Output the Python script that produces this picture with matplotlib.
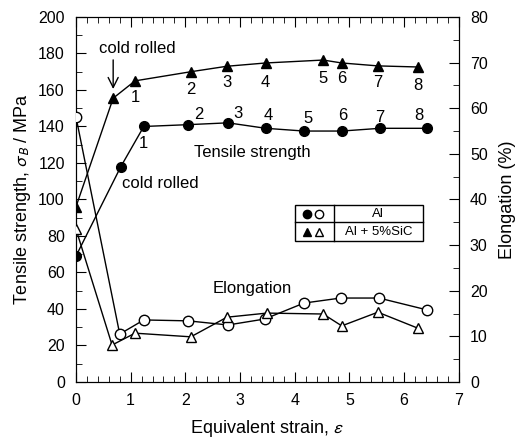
import matplotlib.pyplot as plt
from matplotlib.patches import Rectangle
from matplotlib.ticker import MultipleLocator

plt.rcParams["font.family"] = ["Liberation Sans", "DejaVu Sans"]
plt.rcParams["mathtext.fontset"] = "stixsans"

# tensile strength (MPa), left axis
al_strain = [0.0, 0.82, 1.24, 2.05, 2.78, 3.47, 4.17, 4.86, 5.56, 6.42]
al_ts = [69, 118, 140, 141, 142, 139, 137.5, 137.5, 139, 139]
sic_strain = [0.0, 0.68, 1.08, 2.1, 2.76, 3.47, 4.52, 4.86, 5.52, 6.25]
sic_ts = [96, 155.5, 165, 170, 173, 174.8, 176.4, 174.8, 173.2, 172.6]

# elongation (%), right axis
al_el_strain = [0.0, 0.8, 1.24, 2.05, 2.78, 3.45, 4.17, 4.84, 5.54, 6.42]
al_el = [58.1, 10.5, 13.6, 13.4, 12.5, 13.8, 17.3, 18.4, 18.4, 15.8]
sic_el_strain = [0.0, 0.66, 1.08, 2.1, 2.76, 3.49, 4.52, 4.86, 5.52, 6.25]
sic_el = [33.5, 8.1, 10.7, 9.9, 14.2, 15.1, 14.9, 12.3, 15.3, 11.8]

pass_labels = ["1", "2", "3", "4", "5", "6", "7", "8"]
# label offsets in points for the numbered passes
al_offsets = [(0, -12), (8, 7), (7, 7), (2, 9), (3, 9), (1, 11), (0, 8), (-6, 9)]
sic_offsets = [(0, -12), (0, -13), (0, -12), (0, -14), (0, -13), (0, -11), (0, -12), (0, -13)]

fig = plt.figure(figsize=(5.19, 4.41), dpi=100)
ax = fig.add_axes([0.1464, 0.1338, 0.7376, 0.8277])
ax2 = ax.twinx()

ax.plot(al_strain, al_ts, color="black", lw=1, marker="o", ms=7, mfc="black", mec="black", zorder=3)
ax.plot(sic_strain, sic_ts, color="black", lw=1, marker="^", ms=7, mfc="black", mec="black", zorder=3)
ax2.plot(al_el_strain, al_el, color="black", lw=1, marker="o", ms=7.5, mfc="white", mec="black", zorder=3)
ax2.plot(sic_el_strain, sic_el, color="black", lw=1, marker="^", ms=7.5, mfc="white", mec="black", zorder=3)

for i, lab in enumerate(pass_labels):
    ax.annotate(lab, (al_strain[i + 2], al_ts[i + 2]), xytext=al_offsets[i],
                textcoords="offset points", ha="center", va="center", fontsize=12)
    ax.annotate(lab, (sic_strain[i + 2], sic_ts[i + 2]), xytext=sic_offsets[i],
                textcoords="offset points", ha="center", va="center", fontsize=12)

ax.text(0.42, 183, "cold rolled", fontsize=12, va="center")
ax.annotate("", xy=(sic_strain[1], 159), xytext=(sic_strain[1], 178),
            arrowprops=dict(arrowstyle="->", color="black", lw=1, mutation_scale=18))
ax.text(0.85, 109, "cold rolled", fontsize=12, va="center")
ax.text(2.15, 126, "Tensile strength", fontsize=12, va="center")
ax.text(2.5, 51, "Elongation", fontsize=12, va="center")

ax.set_xlim(0, 7)
ax.set_ylim(0, 200)
ax2.set_ylim(0, 80)
ax.xaxis.set_major_locator(MultipleLocator(1))
ax.xaxis.set_minor_locator(MultipleLocator(0.2))
ax.yaxis.set_major_locator(MultipleLocator(20))
ax.yaxis.set_minor_locator(MultipleLocator(10))
ax2.yaxis.set_major_locator(MultipleLocator(10))
ax2.yaxis.set_minor_locator(MultipleLocator(5))

ax.tick_params(which="both", direction="in", top=True, labelsize=11.5, pad=8)
ax.tick_params(which="major", length=7)
ax.tick_params(which="minor", length=4)
ax2.tick_params(which="both", direction="in", labelsize=11.5, pad=8)
ax2.tick_params(which="major", length=7)
ax2.tick_params(which="minor", length=4)

ax.set_xlabel(r"Equivalent strain, $\varepsilon$", fontsize=13, labelpad=7)
ax.set_ylabel(r"Tensile strength, $\sigma_B$ / MPa", fontsize=13, labelpad=4)
ax2.set_ylabel("Elongation (%)", fontsize=13, labelpad=8)

# table-style legend
tr = ax.transAxes
x0, x1, xd = 0.572, 0.906, 0.674
yb, ym, yt = 0.386, 0.438, 0.485
ax.add_patch(Rectangle((x0, yb), x1 - x0, yt - yb, transform=tr, fill=False, lw=1, zorder=5))
ax.plot([x0, x1], [ym, ym], transform=tr, color="black", lw=1, zorder=5)
ax.plot([xd, xd], [yb, yt], transform=tr, color="black", lw=1, zorder=5)
ax.plot([0.603], [(ym + yt) / 2], transform=tr, marker="o", ms=6, color="black", zorder=6)
ax.plot([0.635], [(ym + yt) / 2], transform=tr, marker="o", ms=6, mfc="white", mec="black", zorder=6)
ax.plot([0.603], [(yb + ym) / 2], transform=tr, marker="^", ms=6, color="black", zorder=6)
ax.plot([0.635], [(yb + ym) / 2], transform=tr, marker="^", ms=6, mfc="white", mec="black", zorder=6)
ax.text((xd + x1) / 2, (ym + yt) / 2, "Al", transform=tr, ha="center", va="center", fontsize=9.5)
ax.text((xd + x1) / 2, (yb + ym) / 2, "Al + 5%SiC", transform=tr, ha="center", va="center", fontsize=9.5)

fig.savefig("out.png", dpi=100)
